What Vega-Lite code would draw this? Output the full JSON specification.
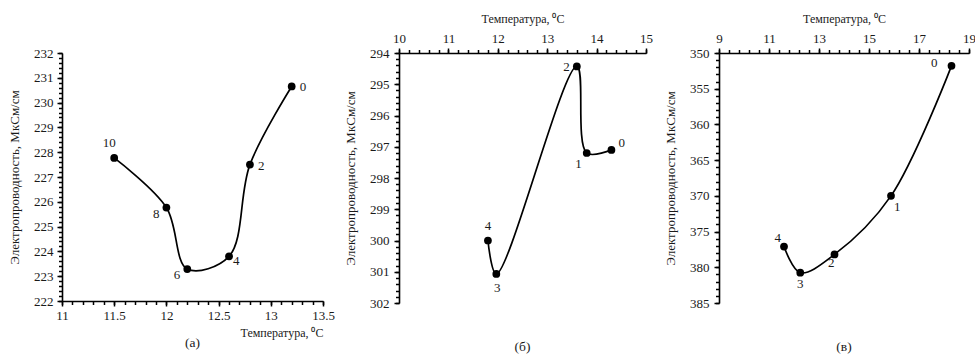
{
  "$schema": "https://vega.github.io/schema/vega-lite/v6.json",
  "padding": {"left": 8, "top": 12, "right": 5, "bottom": 2},
  "background": "white",
  "config": {
    "font": "Liberation Serif",
    "view": {"stroke": null},
    "axis": {
      "grid": false,
      "ticks": true,
      "domainColor": "#000000",
      "domainWidth": 1.6,
      "tickColor": "#000000",
      "tickWidth": 1.5,
      "labelColor": "#1a1a1a",
      "titleColor": "#1a1a1a",
      "labelFont": "Liberation Serif",
      "titleFont": "Liberation Serif",
      "labelFontSize": 13,
      "titleFontSize": 12,
      "titleFontWeight": "normal",
      "labelOverlap": false,
      "labelFlush": false
    },
    "axisY": {"titleFontSize": 13},
    "title": {"font": "Liberation Serif", "fontSize": 13.5, "fontWeight": "normal", "color": "#1a1a1a", "orient": "bottom", "anchor": "middle"},
    "text": {"font": "Liberation Serif", "fontSize": 13, "color": "#1a1a1a", "baseline": "middle"},
    "line": {"color": "#000000", "strokeWidth": 1.7},
    "point": {"color": "#000000", "filled": true, "opacity": 1, "size": 60}
  },
  "datasets": {
    "a": [
      {"label": "10", "T": 11.5, "EC": 227.77},
      {"label": "8", "T": 12.0, "EC": 225.77},
      {"label": "6", "T": 12.2, "EC": 223.29},
      {"label": "4", "T": 12.6, "EC": 223.8},
      {"label": "2", "T": 12.8, "EC": 227.5},
      {"label": "0", "T": 13.2, "EC": 230.65}
    ],
    "b": [
      {"label": "0", "ord": 0, "T": 14.3, "EC": 297.1},
      {"label": "1", "ord": 1, "T": 13.8, "EC": 297.2},
      {"label": "2", "ord": 2, "T": 13.6, "EC": 294.43},
      {"label": "3", "ord": 3, "T": 11.97, "EC": 301.07},
      {"label": "4", "ord": 4, "T": 11.8, "EC": 300.0}
    ],
    "c": [
      {"label": "0", "ord": 0, "T": 18.3, "EC": 351.8},
      {"label": "1", "ord": 1, "T": 15.88, "EC": 370.0},
      {"label": "2", "ord": 2, "T": 13.62, "EC": 378.2},
      {"label": "3", "ord": 3, "T": 12.25, "EC": 380.75},
      {"label": "4", "ord": 4, "T": 11.6, "EC": 377.1}
    ]
  },
  "bounds": "flush",
  "spacing": 76,
  "hconcat": [
    {
      "width": 261,
      "height": 248,
      "title": {"text": "(a)", "offset": -2},
      "resolve": {"axis": {"x": "independent", "y": "independent"}},
      "layer": [
        {
          "data": {"name": "a"},
          "encoding": {
            "x": {
              "field": "T", "type": "quantitative",
              "scale": {"domain": [11, 13.5], "nice": false, "zero": false},
              "axis": {
                "orient": "bottom",
                "values": [11, 11.5, 12, 12.5, 13, 13.5],
                "format": "~g",
                "tickSize": 5,
                "labelPadding": 3,
                "title": "Температура, ⁰C",
                "titleAnchor": "end",
                "titlePadding": 5
              }
            },
            "y": {
              "field": "EC", "type": "quantitative",
              "scale": {"domain": [222, 232], "nice": false, "zero": false},
              "axis": {
                "orient": "left",
                "values": [222,223,224,225,226,227,228,229,230,231,232],
                "format": "~g",
                "tickSize": 5,
                "labelPadding": 4,
                "title": "Электропроводность, МкСм/см",
                "titlePadding": 12
              }
            }
          },
          "layer": [
            {"mark": {"type": "line", "interpolate": "catmull-rom"}, "encoding": {"order": {"field": "T", "type": "quantitative"}}},
            {"mark": {"type": "point"}},
            {"transform": [{"filter": {"field": "label", "oneOf": ["0", "2"]}}], "mark": {"type": "text", "align": "left", "dx": 8, "dy": 1}, "encoding": {"text": {"field": "label"}}},
            {"transform": [{"filter": {"field": "label", "oneOf": ["4"]}}], "mark": {"type": "text", "align": "left", "dx": 4, "dy": 5}, "encoding": {"text": {"field": "label"}}},
            {"transform": [{"filter": {"field": "label", "oneOf": ["6", "8"]}}], "mark": {"type": "text", "align": "right", "dx": -7, "dy": 6}, "encoding": {"text": {"field": "label"}}},
            {"transform": [{"filter": {"field": "label", "oneOf": ["10"]}}], "mark": {"type": "text", "align": "center", "dx": -5, "dy": -15}, "encoding": {"text": {"field": "label"}}}
          ]
        },
        {
          "data": {"name": "a"},
          "mark": {"type": "point", "opacity": 0},
          "encoding": {
            "x": {
              "field": "T", "type": "quantitative",
              "axis": {
                "orient": "bottom",
                "values": [11,11.1,11.2,11.3,11.4,11.5,11.6,11.7,11.8,11.9,12,12.1,12.2,12.3,12.4,12.5,12.6,12.7,12.8,12.9,13,13.1,13.2,13.3,13.4,13.5],
                "labels": false, "domain": false, "tickSize": 3.5, "title": null
              }
            },
            "y": {
              "field": "EC", "type": "quantitative",
              "axis": {
                "orient": "left",
                "values": [222,222.2,222.4,222.6,222.8,223,223.2,223.4,223.6,223.8,224,224.2,224.4,224.6,224.8,225,225.2,225.4,225.6,225.8,226,226.2,226.4,226.6,226.8,227,227.2,227.4,227.6,227.8,228,228.2,228.4,228.6,228.8,229,229.2,229.4,229.6,229.8,230,230.2,230.4,230.6,230.8,231,231.2,231.4,231.6,231.8,232],
                "labels": false, "domain": false, "tickSize": 3.5, "title": null
              }
            }
          }
        }
      ]
    },
    {
      "bounds": "flush",
      "spacing": 73,
      "hconcat": [
        {
          "width": 247,
          "height": 250,
          "title": {"text": "(б)", "offset": 30},
          "resolve": {"axis": {"x": "independent", "y": "independent"}},
          "layer": [
            {
              "data": {"name": "b"},
              "encoding": {
                "x": {
                  "field": "T", "type": "quantitative",
                  "scale": {"domain": [10, 15], "nice": false, "zero": false},
                  "axis": {
                    "orient": "top",
                    "values": [10, 11, 12, 13, 14, 15],
                    "format": "~g",
                    "tickSize": 5,
                    "labelPadding": 3,
                    "title": "Температура, ⁰C",
                    "titlePadding": 7
                  }
                },
                "y": {
                  "field": "EC", "type": "quantitative",
                  "scale": {"domain": [294, 302], "nice": false, "zero": false, "reverse": true},
                  "axis": {
                    "orient": "left",
                    "values": [294,295,296,297,298,299,300,301,302],
                    "format": "~g",
                    "tickSize": 5,
                    "labelPadding": 5,
                    "title": "Электропроводность, МкСм/см",
                    "titlePadding": 12
                  }
                }
              },
              "layer": [
                {"mark": {"type": "line", "interpolate": "catmull-rom"}, "encoding": {"order": {"field": "ord", "type": "quantitative"}}},
                {"mark": {"type": "point"}},
                {"transform": [{"filter": {"field": "label", "oneOf": ["0"]}}], "mark": {"type": "text", "align": "left", "dx": 7, "dy": -7}, "encoding": {"text": {"field": "label"}}},
                {"transform": [{"filter": {"field": "label", "oneOf": ["1"]}}], "mark": {"type": "text", "align": "right", "dx": -5, "dy": 11}, "encoding": {"text": {"field": "label"}}},
                {"transform": [{"filter": {"field": "label", "oneOf": ["2"]}}], "mark": {"type": "text", "align": "right", "dx": -7, "dy": 1}, "encoding": {"text": {"field": "label"}}},
                {"transform": [{"filter": {"field": "label", "oneOf": ["3"]}}], "mark": {"type": "text", "align": "center", "dx": 1, "dy": 14}, "encoding": {"text": {"field": "label"}}},
                {"transform": [{"filter": {"field": "label", "oneOf": ["4"]}}], "mark": {"type": "text", "align": "center", "dx": 0, "dy": -15}, "encoding": {"text": {"field": "label"}}}
              ]
            },
            {
              "data": {"name": "b"},
              "mark": {"type": "point", "opacity": 0},
              "encoding": {
                "x": {
                  "field": "T", "type": "quantitative",
                  "axis": {
                    "orient": "top",
                    "values": [10,10.2,10.4,10.6,10.8,11,11.2,11.4,11.6,11.8,12,12.2,12.4,12.6,12.8,13,13.2,13.4,13.6,13.8,14,14.2,14.4,14.6,14.8,15],
                    "labels": false, "domain": false, "tickSize": 3.5, "title": null
                  }
                },
                "y": {
                  "field": "EC", "type": "quantitative",
                  "axis": {
                    "orient": "left",
                    "values": [294,294.2,294.4,294.6,294.8,295,295.2,295.4,295.6,295.8,296,296.2,296.4,296.6,296.8,297,297.2,297.4,297.6,297.8,298,298.2,298.4,298.6,298.8,299,299.2,299.4,299.6,299.8,300,300.2,300.4,300.6,300.8,301,301.2,301.4,301.6,301.8,302],
                    "labels": false, "domain": false, "tickSize": 3.5, "title": null
                  }
                }
              }
            }
          ]
        },
        {
          "width": 250,
          "height": 250,
          "title": {"text": "(в)", "offset": 30},
          "resolve": {"axis": {"x": "independent", "y": "independent"}},
          "layer": [
            {
              "data": {"name": "c"},
              "encoding": {
                "x": {
                  "field": "T", "type": "quantitative",
                  "scale": {"domain": [9, 19], "nice": false, "zero": false},
                  "axis": {
                    "orient": "top",
                    "values": [9, 11, 13, 15, 17, 19],
                    "format": "~g",
                    "tickSize": 5,
                    "labelPadding": 3,
                    "title": "Температура, ⁰C",
                    "titlePadding": 7
                  }
                },
                "y": {
                  "field": "EC", "type": "quantitative",
                  "scale": {"domain": [350, 385], "nice": false, "zero": false, "reverse": true},
                  "axis": {
                    "orient": "left",
                    "values": [350,355,360,365,370,375,380,385],
                    "format": "~g",
                    "tickSize": 5,
                    "labelPadding": 5,
                    "title": "Электропроводность, МкСм/см",
                    "titlePadding": 12
                  }
                }
              },
              "layer": [
                {"mark": {"type": "line", "interpolate": "catmull-rom"}, "encoding": {"order": {"field": "ord", "type": "quantitative"}}},
                {"mark": {"type": "point"}},
                {"transform": [{"filter": {"field": "label", "oneOf": ["0"]}}], "mark": {"type": "text", "align": "right", "dx": -14, "dy": -3}, "encoding": {"text": {"field": "label"}}},
                {"transform": [{"filter": {"field": "label", "oneOf": ["1"]}}], "mark": {"type": "text", "align": "left", "dx": 3, "dy": 11}, "encoding": {"text": {"field": "label"}}},
                {"transform": [{"filter": {"field": "label", "oneOf": ["2"]}}], "mark": {"type": "text", "align": "right", "dx": 0, "dy": 9}, "encoding": {"text": {"field": "label"}}},
                {"transform": [{"filter": {"field": "label", "oneOf": ["3"]}}], "mark": {"type": "text", "align": "center", "dx": 0, "dy": 11}, "encoding": {"text": {"field": "label"}}},
                {"transform": [{"filter": {"field": "label", "oneOf": ["4"]}}], "mark": {"type": "text", "align": "right", "dx": -3, "dy": -9}, "encoding": {"text": {"field": "label"}}}
              ]
            },
            {
              "data": {"name": "c"},
              "mark": {"type": "point", "opacity": 0},
              "encoding": {
                "x": {
                  "field": "T", "type": "quantitative",
                  "axis": {
                    "orient": "top",
                    "values": [9,9.4,9.8,10.2,10.6,11,11.4,11.8,12.2,12.6,13,13.4,13.8,14.2,14.6,15,15.4,15.8,16.2,16.6,17,17.4,17.8,18.2,18.6,19],
                    "labels": false, "domain": false, "tickSize": 3.5, "title": null
                  }
                },
                "y": {
                  "field": "EC", "type": "quantitative",
                  "axis": {
                    "orient": "left",
                    "values": [350,351,352,353,354,355,356,357,358,359,360,361,362,363,364,365,366,367,368,369,370,371,372,373,374,375,376,377,378,379,380,381,382,383,384,385],
                    "labels": false, "domain": false, "tickSize": 3.5, "title": null
                  }
                }
              }
            }
          ]
        }
      ]
    }
  ]
}
